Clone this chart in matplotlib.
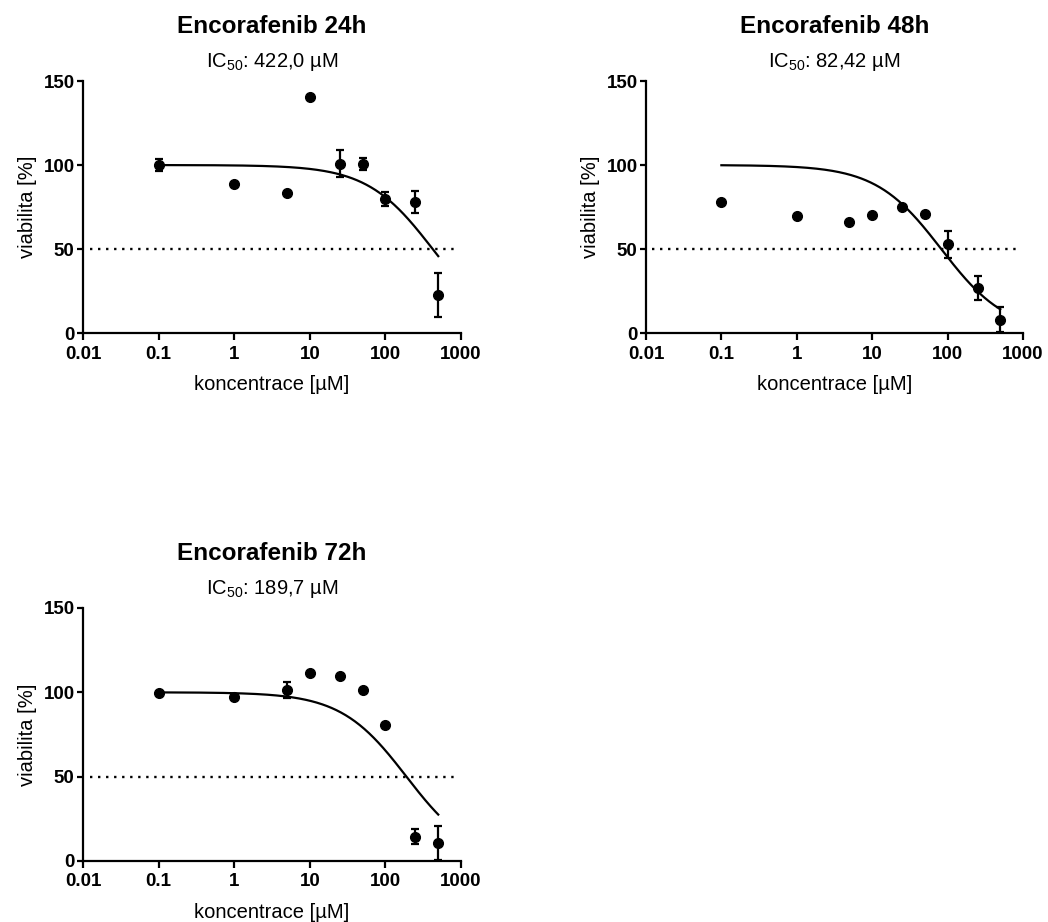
import numpy as np
import matplotlib
matplotlib.use("Agg")
import matplotlib.pyplot as plt
from matplotlib.ticker import FixedLocator, FixedFormatter, NullLocator

plt.rcParams['font.family'] = ['Liberation Sans', 'DejaVu Sans']

# koncentrace [uM]
konc = [0.1, 1, 5, 10, 25, 50, 100, 250, 500]

# viabilita [%] a SD
via_24 = [100.0, 88.8, 83.6, 140.7, 100.7, 100.7, 79.7, 77.9, 22.8]
err_24 = [3.7, 0, 0, 0, 8.0, 3.5, 4.0, 6.5, 13.0]
via_48 = [77.7, 69.7, 65.8, 70.1, 75.3, 70.7, 52.9, 26.7, 7.9]
err_48 = [0, 0, 0, 0, 0, 0, 8.0, 7.3, 7.5]
via_72 = [99.6, 97.1, 101.4, 111.7, 109.4, 101.2, 80.8, 14.5, 10.5]
err_72 = [0, 0, 5.0, 0, 0, 0, 0, 4.5, 10.2]

# parametry fitu
ic50 = [422.0, 82.42, 189.7]
hill = [1.0, 1.0, 1.0]
ic50_txt = ["422,0", "82,42", "189,7"]
nazvy = ["Encorafenib 24h", "Encorafenib 48h", "Encorafenib 72h"]

xticks = [0.01, 0.1, 1, 10, 100, 1000]
xlabels = ["0.01", "0.1", "1", "10", "100", "1000"]

fig = plt.figure(figsize=(10.48, 9.22), dpi=100)
pozice = [
    [0.0792, 0.6388, 0.3607, 0.2733],
    [0.6164, 0.6388, 0.3597, 0.2733],
    [0.0792, 0.0662, 0.3607, 0.2744],
]

data = [(via_24, err_24), (via_48, err_48), (via_72, err_72)]

for i in range(3):
    ax = fig.add_axes(pozice[i])
    via, err = data[i]
    x = np.array(konc)
    y = np.array(via)
    e = np.array(err)

    # krivka
    xc = np.logspace(np.log10(konc[0]), np.log10(konc[-1]), 300)
    yc = 100 / (1 + (xc / ic50[i]) ** hill[i])
    ax.plot(xc, yc, color='black', lw=1.6, zorder=3)

    # 50% cara
    ax.hlines(50, 0.0122, 880, colors='black', lw=1.7,
              linestyles=(0, (1, 2.4)), zorder=1)

    m = e > 0
    ax.errorbar(x[m], y[m], yerr=e[m], fmt='none', ecolor='black',
                elinewidth=1.6, capsize=3, capthick=1.6, zorder=4)
    ax.plot(x, y, 'o', color='black', ms=7, zorder=5)

    ax.set_xscale('log')
    ax.set_xlim(0.01, 1000)
    ax.set_ylim(0, 150)
    ax.xaxis.set_major_locator(FixedLocator(xticks))
    ax.xaxis.set_major_formatter(FixedFormatter(xlabels))
    ax.xaxis.set_minor_locator(NullLocator())
    ax.set_yticks([0, 50, 100, 150])

    for s in ['top', 'right']:
        ax.spines[s].set_visible(False)
    for s in ['left', 'bottom']:
        ax.spines[s].set_linewidth(1.6)
    ax.tick_params(axis='x', length=5, width=1.6, pad=4)
    ax.tick_params(axis='y', length=4, width=1.6, pad=2)
    for lab in ax.get_xticklabels() + ax.get_yticklabels():
        lab.set_fontweight('bold')
        lab.set_fontsize(13.5)

    ax.set_xlabel("koncentrace [µM]", fontsize=14.5, labelpad=9)
    ax.set_ylabel("viabilita [%]", fontsize=14.5, labelpad=5)

    ax.text(0.5, 1.215, nazvy[i], transform=ax.transAxes, ha='center',
            va='center', fontsize=17.5, fontweight='bold')
    ax.text(0.5, 1.075, r"IC$_{\mathregular{50}}$: " + ic50_txt[i] + " µM",
            transform=ax.transAxes, ha='center', va='center', fontsize=14.5)

fig.savefig("out.png", dpi=100)
